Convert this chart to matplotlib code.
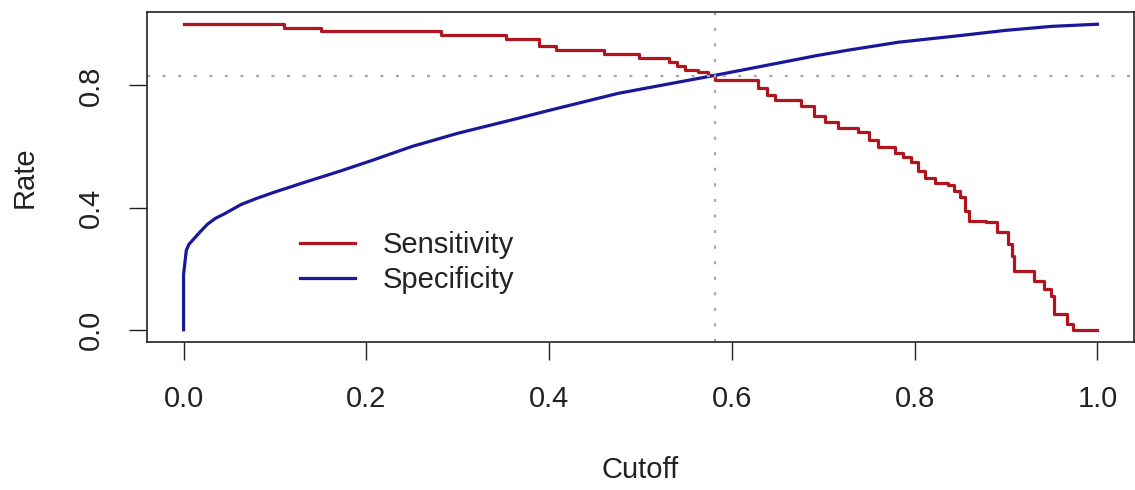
import matplotlib
matplotlib.use("Agg")
import matplotlib.pyplot as plt

plt.rcParams["font.family"] = ["Liberation Sans", "DejaVu Sans"]

# DATA
sens_cutoff = [0.0, 0.110, 0.150, 0.282, 0.353, 0.389, 0.407, 0.460, 0.498, 0.531,
               0.540, 0.549, 0.563, 0.574, 0.582, 0.629, 0.638, 0.647, 0.676, 0.690,
               0.702, 0.716, 0.738, 0.750, 0.760, 0.778, 0.787, 0.796, 0.804, 0.811,
               0.822, 0.836, 0.843, 0.850, 0.855, 0.860, 0.878, 0.890, 0.902, 0.906,
               0.909, 0.931, 0.942, 0.949, 0.953, 0.967, 0.973, 1.0]
sensitivity = [1.0, 0.987, 0.977, 0.964, 0.951, 0.928, 0.915, 0.902, 0.889, 0.875,
               0.862, 0.849, 0.843, 0.833, 0.816, 0.790, 0.770, 0.751, 0.734, 0.700,
               0.679, 0.659, 0.646, 0.620, 0.597, 0.580, 0.565, 0.548, 0.520, 0.498,
               0.479, 0.475, 0.455, 0.433, 0.390, 0.357, 0.354, 0.320, 0.282, 0.240,
               0.193, 0.161, 0.135, 0.111, 0.052, 0.020, 0.0, 0.0]

spec_cutoff = [0.0, 0.0, 0.003, 0.006, 0.012, 0.018, 0.026, 0.035, 0.045, 0.063,
               0.080, 0.099, 0.135, 0.172, 0.205, 0.250, 0.300, 0.366, 0.400, 0.476,
               0.582, 0.694, 0.727, 0.782, 0.850, 0.900, 0.950, 1.0]
specificity = [0.0, 0.18, 0.26, 0.28, 0.30, 0.32, 0.345, 0.365, 0.38, 0.41,
               0.43, 0.45, 0.485, 0.52, 0.553, 0.60, 0.643, 0.692, 0.718, 0.774,
               0.833, 0.898, 0.915, 0.941, 0.963, 0.980, 0.993, 1.0]

best_cutoff = 0.582
best_rate = 0.83

xticks = [0.0, 0.2, 0.4, 0.6, 0.8, 1.0]
yticks = [0.0, 0.4, 0.8]

# PLOT
fig = plt.figure(figsize=(11.35, 4.9), dpi=100)
ax = fig.add_axes([147 / 1135, 1 - 342 / 490, 987 / 1135, 330 / 490])

ax.step(sens_cutoff, sensitivity, where="post", color="#b0141c", lw=2.3, label="Sensitivity")
ax.plot(spec_cutoff, specificity, color="#18189a", lw=2.3, label="Specificity")

ax.axvline(best_cutoff, color="#a8a8a8", lw=1.6, dashes=(1.4, 5.6))
ax.axhline(best_rate, color="#a8a8a8", lw=1.6, dashes=(1.4, 5.6))

ax.set_xlim(-0.04, 1.04)
ax.set_ylim(-0.04, 1.04)
ax.set_xticks(xticks)
ax.set_xticklabels([f"{t:.1f}" for t in xticks])
ax.set_yticks(yticks)
ax.set_yticklabels([f"{t:.1f}" for t in yticks], rotation=90, va="center")

ax.tick_params(axis="x", length=13, width=1, pad=18, labelsize=21, colors="#222222")
ax.tick_params(axis="y", length=13, width=1, pad=17, labelsize=21, colors="#222222")
for s in ax.spines.values():
    s.set_linewidth(1.2)
    s.set_color("#222222")

ax.legend(loc="center left", bbox_to_anchor=(0.155, 0.241), frameon=False,
          fontsize=21, handlelength=1.9, handletextpad=0.95, labelspacing=0.25,
          borderpad=0, borderaxespad=0, labelcolor="#222222")

fig.text(640 / 1135, 1 - 470 / 490, "Cutoff", ha="center", va="center", fontsize=21, color="#222222")
fig.text(25 / 1135, 1 - 177 / 490, "Rate", ha="center", va="center", rotation=90, fontsize=21, color="#222222")

plt.savefig("out.png", dpi=100)
